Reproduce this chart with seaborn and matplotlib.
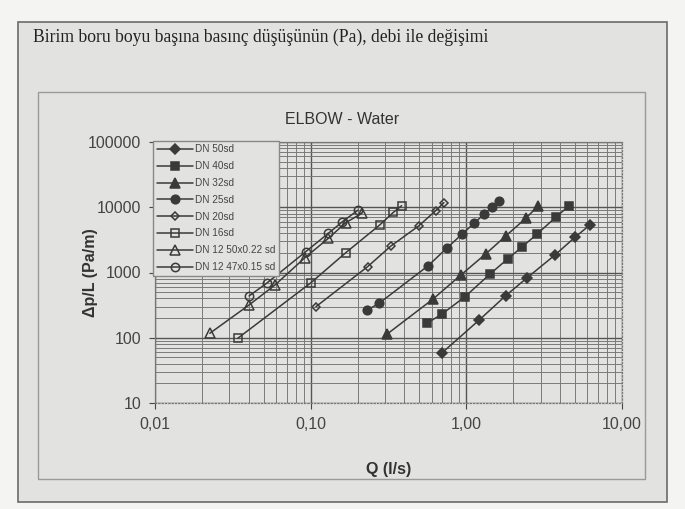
import pandas as pd
import matplotlib.pyplot as plt
import matplotlib.ticker as mticker
import seaborn as sns

# --- veriler ---
series_names = ['DN 50sd', 'DN 40sd', 'DN 32sd', 'DN 25sd', 'DN 20sd',
                'DN 16sd', 'DN 12 50x0.22 sd', 'DN 12 47x0.15 sd']

q_dn50 = [0.694, 1.21, 1.79, 2.46, 3.71, 4.98, 6.22]
p_dn50 = [58, 187, 441, 832, 1854, 3460, 5350]

q_dn40 = [0.556, 0.694, 0.98, 1.42, 1.84, 2.29, 2.85, 3.75, 4.58]
p_dn40 = [166, 229, 425, 948, 1610, 2485, 3890, 7020, 10570]

q_dn32 = [0.31, 0.608, 0.923, 1.33, 1.79, 2.41, 2.90]
p_dn32 = [114, 388, 916, 1922, 3622, 6770, 10570]

q_dn25 = [0.231, 0.275, 0.569, 0.754, 0.941, 1.12, 1.30, 1.46, 1.62]
p_dn25 = [266, 337, 1271, 2400, 3890, 5680, 7800, 9980, 12600]

q_dn20 = [0.108, 0.232, 0.326, 0.496, 0.635, 0.718]
p_dn20 = [299, 1227, 2522, 5210, 8850, 11740]

q_dn16 = [0.034, 0.1005, 0.168, 0.279, 0.339, 0.384]
p_dn16 = [98, 698, 2010, 5400, 8310, 10560]

q_dn12a = [0.0225, 0.0402, 0.059, 0.0918, 0.130, 0.168, 0.213]
p_dn12a = [117, 318, 643, 1686, 3342, 5800, 8080]

q_dn12b = [0.0402, 0.0521, 0.0929, 0.130, 0.160, 0.202]
p_dn12b = [437, 683, 2084, 3990, 6010, 9070]

q_values = [q_dn50, q_dn40, q_dn32, q_dn25, q_dn20, q_dn16, q_dn12a, q_dn12b]
p_values = [p_dn50, p_dn40, p_dn32, p_dn25, p_dn20, p_dn16, p_dn12a, p_dn12b]

x_ticks = [0.01, 0.1, 1, 10]
x_tick_labels = ['0,01', '0,10', '1,00', '10,00']
y_ticks = [10, 100, 1000, 10000, 100000]

# marker stilleri
markers = ['D', 's', '^', 'o', 'D', 's', '^', 'o']
filled = [True, True, True, True, False, False, False, False]
msizes = [5, 6, 6.5, 6.2, 4.5, 6, 6.5, 6]

bg = '#e2e2e0'
ink = '#3a3a3a'

sns.set_style('ticks')
plt.rcParams['font.family'] = ['Liberation Sans', 'DejaVu Sans']

fig = plt.figure(figsize=(6.85, 5.09), dpi=100)
fig.patch.set_facecolor('#f4f4f2')

# cerceveler
fig.add_artist(plt.Rectangle((18 / 685, 1 - 502 / 509), 649 / 685, 480 / 509,
                             transform=fig.transFigure, facecolor=bg,
                             edgecolor='#6a6a6a', lw=1.2, zorder=-2))
fig.add_artist(plt.Rectangle((38 / 685, 1 - 479 / 509), 607 / 685, 387 / 509,
                             transform=fig.transFigure, facecolor='none',
                             edgecolor='#9a9a9a', lw=1.0, zorder=-1))

ax = fig.add_axes([155 / 685, 1 - 403 / 509, 467 / 685, 261 / 509])
ax.set_facecolor(bg)

for name, qs, ps, m, f, ms in zip(series_names, q_values, p_values, markers, filled, msizes):
    sns.lineplot(x=qs, y=ps, ax=ax, marker=m, markersize=ms, color=ink, lw=1.1,
                 markerfacecolor=ink if f else 'none', markeredgecolor=ink,
                 markeredgewidth=1.1, label=name, sort=False)

ax.set_xscale('log')
ax.set_yscale('log')
ax.set_xlim(0.01, 10)
ax.set_ylim(10, 100000)

ax.xaxis.set_major_locator(mticker.FixedLocator(x_ticks))
ax.xaxis.set_major_formatter(mticker.FixedFormatter(x_tick_labels))
ax.yaxis.set_major_locator(mticker.FixedLocator(y_ticks))
ax.yaxis.set_major_formatter(mticker.FuncFormatter(lambda v, p: f'{int(v)}'))
ax.xaxis.set_minor_locator(mticker.LogLocator(base=10, subs=range(2, 10)))
ax.yaxis.set_minor_locator(mticker.LogLocator(base=10, subs=range(2, 10)))
ax.xaxis.set_minor_formatter(mticker.NullFormatter())
ax.yaxis.set_minor_formatter(mticker.NullFormatter())

ax.grid(which='major', color='#555555', lw=1.0)
ax.grid(which='minor', color='#7a7a7a', lw=0.7)
ax.set_axisbelow(True)
ax.tick_params(which='major', labelsize=11.5, colors='#444444', length=4, pad=6)
ax.tick_params(which='minor', length=0)
for s in ax.spines.values():
    s.set_color('#777777')
    s.set_linewidth(0.9)
ax.spines['right'].set_linestyle(':')
ax.spines['bottom'].set_linestyle(':')

ax.set_xlabel('Q (l/s)', fontsize=11.5, fontweight='bold', color='#333333')
ax.set_ylabel('Δp/L (Pa/m)', fontsize=11.5, fontweight='bold', color='#333333')
ax.xaxis.set_label_coords(0.5, -0.225)
ax.yaxis.set_label_coords(-0.122, 0.5)

leg = ax.legend(loc='upper left', bbox_to_anchor=(-0.004, 1.004), fontsize=7.2,
                frameon=True, fancybox=False, handlelength=3.6, handletextpad=0.2,
                borderpad=0.35, labelspacing=0.68, borderaxespad=0)
leg.get_frame().set_facecolor(bg)
leg.get_frame().set_edgecolor('#888888')
leg.get_frame().set_alpha(1)
for t in leg.get_texts():
    t.set_color('#444444')

fig.text(33 / 685, 1 - 37 / 509, 'Birim boru boyu başına basınç düşüşünün (Pa), debi ile değişimi',
         fontsize=12.7, family=['Liberation Serif', 'DejaVu Serif'], color='#222222', va='center')
fig.text(342 / 685, 1 - 120 / 509, 'ELBOW - Water', fontsize=11.5, color='#333333',
         ha='center', va='center')

fig.savefig('out.png', dpi=100, facecolor=fig.get_facecolor())
